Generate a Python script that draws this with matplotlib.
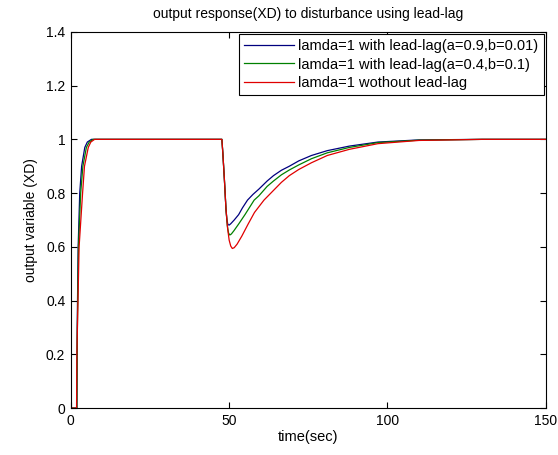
import numpy as np
import matplotlib
matplotlib.use('Agg')
import matplotlib.pyplot as plt

plt.rc('font', family=['Liberation Sans', 'DejaVu Sans'], size=10)
plt.rc('axes', linewidth=0.8)
plt.rc('xtick', direction='in')
plt.rc('ytick', direction='in')

############## data #########################################

title = 'output response(XD) to disturbance using lead-lag'
xlabel = 'time(sec)'
ylabel = 'output variable (XD)'

labels = ['lamda=1 with lead-lag(a=0.9,b=0.01)',
          'lamda=1 with lead-lag(a=0.4,b=0.1)',
          'lamda=1 wothout lead-lag']
colors = ['#00007f', '#008000', '#e00000']

t_blue = [0, 1.9, 2.0, 2.3, 2.8, 3.4, 4.4, 5.2, 6.5, 10, 47.7, 48.0, 48.5, 49.0,
          49.3, 49.6, 50.0, 50.5, 51.6, 53, 54.2, 55.8, 57.5, 59.4, 62, 64, 66.5,
          69, 72, 76, 81, 88, 97, 110, 130, 150]
y_blue = [0, 0, 0.3, 0.6, 0.8, 0.9, 0.97, 0.99, 1.0, 1.0, 1.0, 0.95, 0.85, 0.74,
          0.70, 0.683, 0.681, 0.686, 0.70, 0.72, 0.745, 0.774, 0.795, 0.815, 0.845, 0.865, 0.885,
          0.90, 0.92, 0.94, 0.958, 0.975, 0.99, 0.998, 1.0, 1.0]

t_green = [0, 1.9, 2.0, 2.4, 3.1, 3.8, 4.9, 5.8, 7.0, 10, 47.7, 48.0, 48.5, 49.0,
           49.4, 49.8, 50.2, 50.7, 51.5, 53, 55, 57.9, 59.4, 62, 64, 66.5,
           69, 72, 76, 81, 88, 97, 110, 130, 150]
y_green = [0, 0, 0.25, 0.6, 0.8, 0.9, 0.97, 0.99, 1.0, 1.0, 1.0, 0.95, 0.85, 0.74,
           0.68, 0.652, 0.644, 0.648, 0.66, 0.685, 0.72, 0.774, 0.79, 0.825, 0.845, 0.868,
           0.886, 0.905, 0.928, 0.95, 0.97, 0.988, 0.997, 1.0, 1.0]

t_red = [0, 1.8, 1.9, 2.6, 3.7, 4.3, 5.5, 6.3, 7.5, 10, 47.7, 48.0, 48.5, 49.0,
         49.5, 50.0, 50.5, 51.0, 51.6, 52.5, 54, 56, 58, 61, 64, 66.5,
         69, 72, 76, 81, 88, 97, 110, 130, 150]
y_red = [0, 0, 0.2, 0.6, 0.8, 0.9, 0.97, 0.99, 1.0, 1.0, 1.0, 0.95, 0.85, 0.74,
         0.67, 0.625, 0.603, 0.594, 0.597, 0.61, 0.64, 0.685, 0.728, 0.774, 0.81, 0.84,
         0.865, 0.888, 0.913, 0.94, 0.963, 0.984, 0.996, 1.0, 1.0]

############## plot ####################

fig = plt.figure(figsize=(5.58, 4.55), dpi=100)
ax = fig.add_axes([0.127, 0.103, 0.851, 0.827])

ax.plot(t_blue, y_blue, color=colors[0], linewidth=0.9, label=labels[0])
ax.plot(t_green, y_green, color=colors[1], linewidth=0.9, label=labels[1])
ax.plot(t_red, y_red, color=colors[2], linewidth=0.9, label=labels[2])

ax.set_xlim(0, 150)
ax.set_ylim(0, 1.4)
ax.set_xticks([0, 50, 100, 150])
ax.set_yticks([0, 0.2, 0.4, 0.6, 0.8, 1.0, 1.2, 1.4])
ax.set_yticklabels(['0', '0.2', '0.4', '0.6', '0.8', '1', '1.2', '1.4'])
ax.tick_params(top=True, right=True, length=4, width=0.8, labelsize=10, pad=4)

ax.set_title(title, fontsize=10, pad=10)
ax.set_xlabel(xlabel, fontsize=10.5, labelpad=2)
ax.set_ylabel(ylabel, fontsize=10, labelpad=6)

leg = ax.legend(loc='upper right', fontsize=10.5, handlelength=3.4, handletextpad=0.3,
                borderpad=0.35, labelspacing=0.3, fancybox=False, framealpha=1,
                edgecolor='black', borderaxespad=0.15)
leg.get_frame().set_linewidth(0.8)

fig.savefig('out.png', dpi=100)
